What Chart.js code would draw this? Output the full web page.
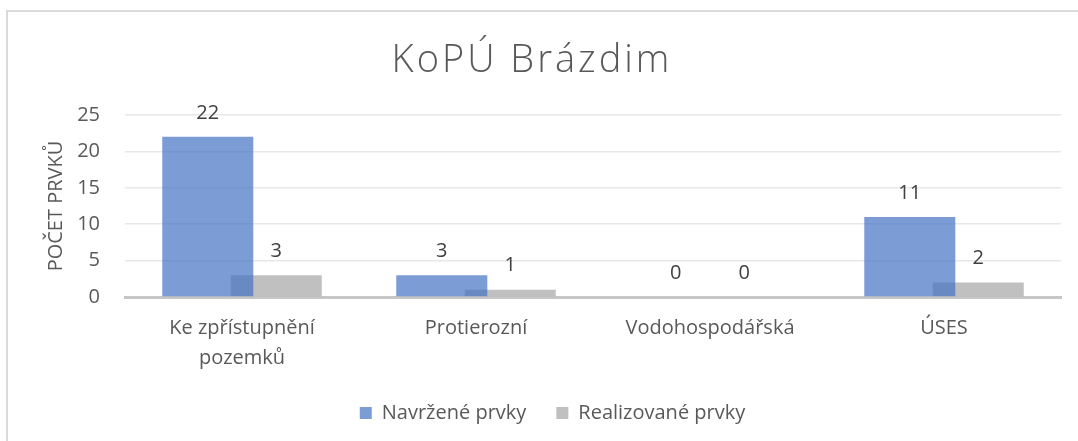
<!DOCTYPE html>
<html>
<head>
<meta charset="utf-8">
<script src="https://cdn.jsdelivr.net/npm/chart.js@4/dist/chart.umd.min.js"></script>
<style>
html,body{margin:0;padding:0;background:#fff;overflow:hidden;}
#wrap{position:relative;width:1078px;height:441px;}
#frame{position:absolute;left:6px;top:10px;width:1200px;height:600px;border-left:2px solid #DADADA;border-top:2px solid #DADADA;box-sizing:border-box;}
canvas{position:absolute;left:0;top:0;}
</style>
</head>
<body>
<div id="wrap">
<div id="frame"></div>
<canvas id="c" width="1078" height="441"></canvas>
</div>
<script>
const categories = [["Ke zpřístupnění","pozemků"], "Protierozní", "Vodohospodářská", "ÚSES"];
const navrzene = [22, 3, 0, 11];
const realizovane = [3, 1, 0, 2];
const yTicks = [0, 5, 10, 15, 20, 25];
const seriesNames = ["Navržené prvky", "Realizované prvky"];
const titleText = "KoPÚ Brázdim";
const yTitle = "POČET PRVKŮ";

const FONT = "'Open Sans', sans-serif";

const labelPlugin = {
  id: 'valueLabels',
  afterDatasetsDraw(chart) {
    const ctx = chart.ctx;
    ctx.save();
    ctx.font = "20px " + FONT;
    ctx.fillStyle = "#404040";
    ctx.textAlign = "center";
    ctx.textBaseline = "middle";
    chart.data.datasets.forEach((ds, i) => {
      const meta = chart.getDatasetMeta(i);
      meta.data.forEach((bar, j) => {
        ctx.fillText(String(ds.data[j]), bar.x, bar.y - 24);
      });
    });
    ctx.restore();
  }
};

const titlePlugin = {
  id: 'spacedTitle',
  afterDraw(chart) {
    const ctx = chart.ctx;
    ctx.save();
    ctx.font = "300 38px " + FONT;
    ctx.fillStyle = "#595959";
    ctx.textAlign = "center";
    ctx.textBaseline = "alphabetic";
    if ('letterSpacing' in ctx) ctx.letterSpacing = "3px";
    ctx.fillText(titleText, chart.width / 2 - 7, 72);
    ctx.restore();
  }
};

new Chart(document.getElementById('c'), {
  type: 'bar',
  data: {
    labels: categories,
    datasets: [
      { label: seriesNames[0], data: navrzene, backgroundColor: 'rgba(68,114,196,0.7)', barPercentage: 1.33, categoryPercentage: 0.585 },
      { label: seriesNames[1], data: realizovane, backgroundColor: 'rgba(165,165,165,0.7)', barPercentage: 1.33, categoryPercentage: 0.585 }
    ]
  },
  options: {
    responsive: false,
    animation: false,
    layout: { padding: { top: 115, left: 44, right: 17, bottom: 8 } },
    plugins: {
      title: { display: false },
      legend: {
        position: 'bottom',
        labels: {
          color: '#595959', font: { family: FONT, size: 20 },
          boxWidth: 12, boxHeight: 12, padding: 30
        }
      },
      tooltip: { enabled: false }
    },
    scales: {
      x: {
        z: 1,
        grid: { display: false, drawTicks: false },
        border: { color: '#C6C6C6', width: 3 },
        ticks: { color: '#595959', font: { family: FONT, size: 20, lineHeight: 1.5 }, padding: 16, maxRotation: 0, autoSkip: false },
        afterFit(s) { s.height = 76; }
      },
      y: {
        min: 0, max: 25,
        afterBuildTicks(s) { s.ticks = yTicks.map(v => ({ value: v })); },
        grid: { color: '#E8E8E8', lineWidth: 1.5, drawTicks: false },
        border: { display: false },
        ticks: { color: '#595959', font: { family: FONT, size: 20 }, padding: 25 },
        title: { display: true, text: yTitle, color: '#595959', font: { family: FONT, size: 20 }, padding: 0 },
        afterFit(s) { s.width = 81; }
      }
    }
  },
  plugins: [labelPlugin, titlePlugin]
});
</script>
</body>
</html>
